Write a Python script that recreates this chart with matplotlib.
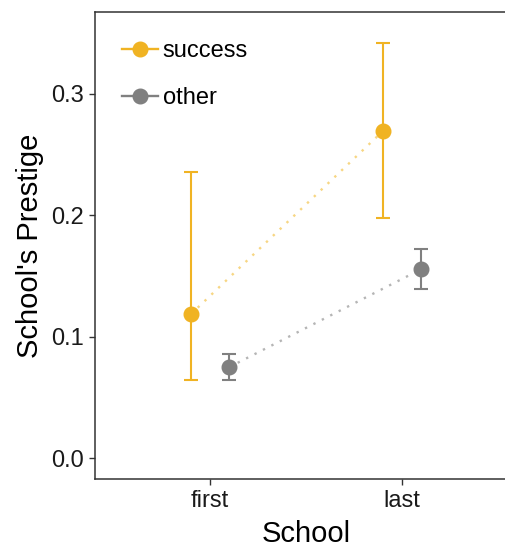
import matplotlib
matplotlib.use("Agg")
import matplotlib.pyplot as plt
from matplotlib.lines import Line2D
import numpy as np

plt.rcParams['font.family'] = ['Liberation Sans', 'DejaVu Sans']

# prestige means with lower / upper interval bounds
schools = ["first", "last"]
groups = ["success", "other"]
colors = {"success": "#F0B323", "other": "#808080"}
line_colors = {"success": "#F7D683", "other": "#B5B5B5"}
means = {"success": [0.1186, 0.2693], "other": [0.0750, 0.1556]}
lower = {"success": [0.0644, 0.1975], "other": [0.0644, 0.1391]}
upper = {"success": [0.2361, 0.3419], "other": [0.0858, 0.1720]}
dodge = {"success": -0.1, "other": 0.1}

fig = plt.figure(figsize=(5.06, 5.49), dpi=100)
W, H = 506, 549
# panel runs off the right edge, so only three sides of the box show
ax = fig.add_axes([95 / W, (H - 479) / H, (517 - 95) / W, (479 - 12) / H])

x = np.arange(1, len(schools) + 1)
for g in groups:
    xs = x + dodge[g]
    m = np.array(means[g])
    err = [m - np.array(lower[g]), np.array(upper[g]) - m]
    ax.plot(xs, m, color=line_colors[g], lw=1.7, dashes=(1, 3), zorder=1)
    ax.errorbar(xs, m, yerr=err, fmt="o", color=colors[g], ms=10.5,
                elinewidth=1.5, capsize=5, capthick=1.5, zorder=3)

ax.set_xlim(0.4, 2.6)
ax.set_ylim(-0.0172, 0.3675)
ax.set_xticks(x)
ax.set_xticklabels(schools)
ax.set_yticks([0.0, 0.1, 0.2, 0.3])
ax.set_yticklabels(["0.0", "0.1", "0.2", "0.3"])
ax.tick_params(labelsize=17, color="#333333", length=4, width=1, pad=4,
               labelcolor="#1a1a1a")
for s in ax.spines.values():
    s.set_color("#333333")
    s.set_linewidth(1.1)

ax.set_xlabel("School", fontsize=21, labelpad=6)
ax.set_ylabel("School's Prestige", fontsize=21, labelpad=5)

handles = [Line2D([0], [0], color=colors[g], lw=1.7, marker="o", ms=10.5)
           for g in groups]
ax.legend(handles, groups, loc="upper left", bbox_to_anchor=(0.064, 0.939),
          frameon=False, fontsize=17, handlelength=1.52, handletextpad=0.2,
          labelspacing=1.05, borderaxespad=0, borderpad=0)

fig.savefig("out.png", dpi=100)
